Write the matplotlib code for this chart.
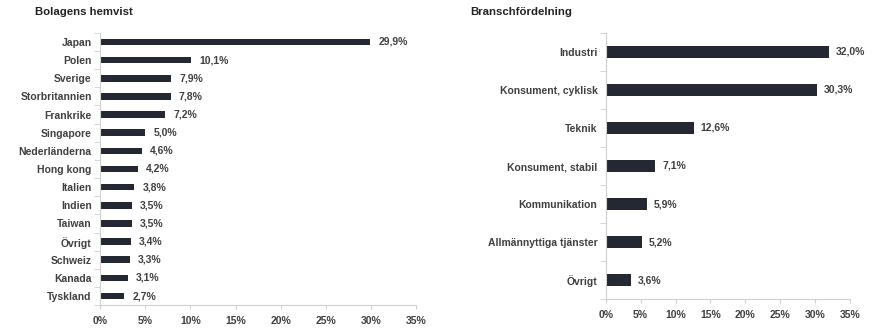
import numpy as np
import matplotlib.pyplot as plt
from matplotlib.ticker import FixedLocator

plt.rcParams["font.family"] = ["Liberation Sans", "DejaVu Sans"]

countries = ["Japan", "Polen", "Sverige", "Storbritannien", "Frankrike",
             "Singapore", "Nederländerna", "Hong kong", "Italien", "Indien",
             "Taiwan", "Övrigt", "Schweiz", "Kanada", "Tyskland"]
country_vals = [29.9, 10.1, 7.9, 7.8, 7.2, 5.0, 4.6, 4.2, 3.8, 3.5,
                3.5, 3.4, 3.3, 3.1, 2.7]

sectors = ["Industri", "Konsument, cyklisk", "Teknik", "Konsument, stabil",
           "Kommunikation", "Allmännyttiga tjänster", "Övrigt"]
sector_vals = [32.0, 30.3, 12.6, 7.1, 5.9, 5.2, 3.6]

xticks = [0, 5, 10, 15, 20, 25, 30, 35]

bar_color = "#232833"
text_color = "#404040"
spine_color = "#d0d0d0"

fig = plt.figure(figsize=(8.78, 3.32), dpi=100)
ax1 = fig.add_axes([0.114, 0.081, 0.360, 0.820])
ax2 = fig.add_axes([0.690, 0.099, 0.278, 0.802])


def draw(ax, labels, vals, height, offset):
    y = np.arange(len(labels))
    ax.barh(y, vals, height=height, color=bar_color)
    for yi, v in zip(y, vals):
        ax.text(v + offset, yi, f"{v:.1f}%".replace(".", ","), va="center",
                ha="left", fontsize=7.5, fontweight="bold", color=text_color)
    ax.set_ylim(len(labels) - 0.5, -0.5)
    ax.set_xlim(0, 35)
    ax.set_yticks(y)
    ax.set_yticklabels(labels, fontsize=7.5, fontweight="bold", color=text_color)
    ax.yaxis.set_minor_locator(FixedLocator(np.arange(len(labels) + 1) - 0.5))
    ax.tick_params(axis="y", which="major", length=0, pad=6)
    ax.tick_params(axis="y", which="minor", length=4, color=spine_color,
                   direction="out")
    ax.set_xticks(xticks)
    ax.set_xticklabels([f"{t}%" for t in xticks], fontsize=7.5,
                       fontweight="bold", color=text_color)
    ax.tick_params(axis="x", length=3, color=spine_color, pad=5)
    for s in ["top", "right"]:
        ax.spines[s].set_visible(False)
    for s in ["left", "bottom"]:
        ax.spines[s].set_color(spine_color)
        ax.spines[s].set_linewidth(0.8)


draw(ax1, countries, country_vals, 0.36, 0.9)
draw(ax2, sectors, sector_vals, 0.32, 1.0)

fig.text(35 / 878, 1 - 12 / 332, "Bolagens hemvist", fontsize=8.2,
         fontweight="bold", color="#222222", va="center")
fig.text(470 / 878, 1 - 12 / 332, "Branschfördelning", fontsize=8.2,
         fontweight="bold", color="#222222", va="center")

plt.savefig("out.png", dpi=100)
plt.close()
